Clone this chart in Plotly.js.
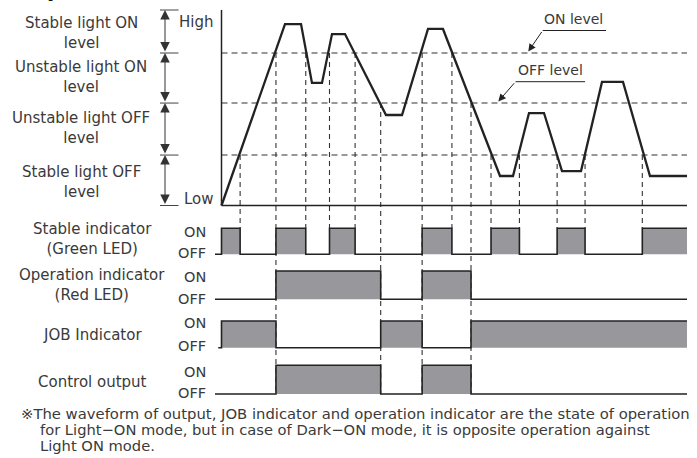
<!DOCTYPE html>
<html><head><meta charset="utf-8">
<script src="https://cdn.plot.ly/plotly-3.0.1.min.js"></script>
<style>html,body{margin:0;padding:0;background:#fff;}#chart{width:697px;height:458px;}</style>
</head><body><div id="chart"></div>
<script>
// ===== data (time in 0..100 units, light level Low=0 .. High=100) =====
const waveTime  = [0, 13.64, 17.08, 19.44, 21.59, 23.74, 26.53, 35.34, 38.78, 44.36, 47.58, 59.83, 62.62, 66.06, 69.28, 73.15, 77.23, 81.74, 86.25, 92.05, 100];
const waveLevel = [0, 92.8, 92.8, 62.7, 62.7, 87.7, 87.7, 46.3, 46.3, 90.3, 90.3, 15.1, 15.1, 47.3, 47.3, 17.6, 17.6, 63.2, 63.2, 15.1, 15.1];

const levelNames  = ["Low", "Stable OFF", "OFF level", "ON level", "High"];
const levelValues = [0, 25.8, 52.4, 78, 100];

const crossTime  = [4.0, 11.7, 18.1, 23.2, 28.7, 34.2, 43.1, 49.5, 53.6, 57.9, 64.0, 72.1, 78.1, 90.4];
const crossLevel = [25.8, 78, 78, 78, 78, 52.4, 78, 78, 52.4, 25.8, 25.8, 25.8, 25.8, 25.8];

const stableTime  = [-1.4, 0, 4.0, 11.7, 18.1, 23.2, 28.7, 43.1, 49.5, 57.9, 64.0, 72.1, 78.1, 90.4, 100];
const stableState = [0, 1, 0, 1, 0, 1, 0, 1, 0, 1, 0, 1, 0, 1, 1];
const operTime    = [-1.4, 11.7, 34.2, 43.1, 53.6, 100];
const operState   = [0, 1, 0, 1, 0, 0];
const jobTime     = [-0.7, 0, 11.7, 34.2, 43.1, 53.6, 100];
const jobState    = [0, 1, 0, 1, 0, 1, 1];
const ctrlTime    = [-1.4, 11.7, 34.2, 43.1, 53.6, 100];
const ctrlState   = [0, 1, 0, 1, 0, 0];

const rowLabels = ["Stable indicator<br>(Green LED)", "Operation indicator<br>(Red LED)", "JOB Indicator", "Control output"];
const levelLabels = ["Stable light ON<br>level", "Unstable light ON<br>level", "Unstable light OFF<br>level", "Stable light OFF<br>level"];

// ===== layout helpers (page position -> axis units) =====
const X = px => (px - 221.5) / 4.655;
const Y = py => (205.5 - py) / 1.955;

const rowOnY  = [Y(228.3), Y(271), Y(321), Y(365.3)];
const rowOffY = [Y(254.3), Y(299.3), Y(347.7), Y(394)];
const rowOnLabelY  = [231.5, 276.7, 322.7, 372.3];
const rowOffLabelY = [252.8, 298.5, 345.5, 393.3];

const INK = '#222';
const GRAY = 'rgb(152,152,156)';
const TXT = '#3a3a3a';
const FONT = 'DejaVu Sans, sans-serif';

const traces = [];

// vertical dashed guides from each crossing down to the rows
const vx = [], vy = [];
crossTime.forEach((t, i) => {
  const full = operTime.includes(t);
  vx.push(t, t, null);
  vy.push(crossLevel[i], full ? rowOffY[3] : rowOnY[0], null);
});
traces.push({x: vx, y: vy, mode: 'lines', line: {color: '#333', width: 1.1, dash: '5px,4px'}, hoverinfo: 'skip'});

// horizontal dashed threshold lines
const hx = [], hy = [];
levelValues.slice(1, 4).forEach(v => { hx.push(0, 100, null); hy.push(v, v, null); });
traces.push({x: hx, y: hy, mode: 'lines', line: {color: '#333', width: 1.1, dash: '6px,4px'}, hoverinfo: 'skip'});

// waveform
traces.push({x: waveTime, y: waveLevel, mode: 'lines', line: {color: INK, width: 2.3}, hoverinfo: 'skip'});

// timing rows
const rows = [[stableTime, stableState], [operTime, operState], [jobTime, jobState], [ctrlTime, ctrlState]];
rows.forEach(([t, s], r) => {
  const on = rowOnY[r], off = rowOffY[r];
  traces.push({x: [t[0], t[t.length - 1]], y: [off, off], mode: 'lines', line: {width: 0}, hoverinfo: 'skip'});
  traces.push({x: t, y: s.map(v => off + v * (on - off)), mode: 'lines', line: {color: INK, width: 1.6, shape: 'hv'},
               fill: 'tonexty', fillcolor: GRAY, hoverinfo: 'skip'});
});

const shapes = [
  {type: 'line', xref: 'x', yref: 'y', x0: 0, x1: 0, y0: 0, y1: 100, line: {color: INK, width: 1.5}},
  {type: 'line', xref: 'x', yref: 'y', x0: 0, x1: 100, y0: 0, y1: 0, line: {color: INK, width: 1.5}},
  // underlines of callouts
  {type: 'line', xref: 'x', yref: 'y', x0: X(542.7), x1: X(606), y0: Y(30.5), y1: Y(30.5), line: {color: INK, width: 1}},
  {type: 'line', xref: 'x', yref: 'y', x0: X(515.5), x1: X(585), y0: Y(81.7), y1: Y(81.7), line: {color: INK, width: 1}}
];
levelValues.forEach(v => shapes.push({type: 'line', xref: 'x', yref: 'y', x0: X(160), x1: X(178.5), y0: v, y1: v, line: {color: '#444', width: 1}}));

const ann = [];
const txt = (text, px, py, size, anchor, extra) => Object.assign({
  text, x: X(px), y: Y(py), xref: 'x', yref: 'y', showarrow: false, xanchor: anchor || 'center', yanchor: 'middle',
  font: {family: FONT, size: size, color: TXT}, align: 'center'
}, extra || {});

// double-headed arrows of the left scale
for (let i = 0; i < levelValues.length - 1; i++) {
  ann.push({x: X(165), y: levelValues[i + 1], ax: X(165), ay: levelValues[i], xref: 'x', yref: 'y', axref: 'x', ayref: 'y',
            text: '', showarrow: true, arrowside: 'end+start', arrowhead: 2, startarrowhead: 2,
            arrowsize: 1.9, startarrowsize: 1.9, arrowwidth: 1, arrowcolor: '#333'});
}
// left level labels
const levelLabelY = [33, 77, 127.5, 182];
levelLabels.forEach((l, i) => ann.push(txt(l, 81, levelLabelY[i], 15)));
ann.push(txt('High', 215, 22, 15, 'right'));
ann.push(txt('Low', 216, 199, 15, 'right'));

// callouts
ann.push(txt('ON level', 573, 19, 14));
ann.push(txt('OFF level', 550, 70, 14));
ann.push({x: X(528.3), y: Y(51.5), ax: X(542.7), ay: Y(30.5), xref: 'x', yref: 'y', axref: 'x', ayref: 'y', text: '',
          showarrow: true, arrowhead: 2, arrowsize: 1.5, arrowwidth: 1, arrowcolor: INK});
ann.push({x: X(498.3), y: Y(101.5), ax: X(515.5), ay: Y(81.7), xref: 'x', yref: 'y', axref: 'x', ayref: 'y', text: '',
          showarrow: true, arrowhead: 2, arrowsize: 1.5, arrowwidth: 1, arrowcolor: INK});

// rows labels
const rowLabelY = [239, 285, 335, 382];
rowLabels.forEach((l, i) => {
  ann.push(txt(l, 92, rowLabelY[i], 15));
  ann.push(txt('ON', 207.5, rowOnLabelY[i], 14.5, 'right'));
  ann.push(txt('OFF', 207.5, rowOffLabelY[i], 14.5, 'right'));
});

// notes
ann.push(txt('※The waveform of output, JOB indicator and operation indicator are the state of operation', 19, 413, 14.8, 'left'));
ann.push(txt('for Light−ON mode, but in case of Dark−ON mode, it is opposite operation against', 38, 429, 14.7, 'left'));
ann.push(txt('Light ON mode.', 38, 445, 14.7, 'left'));
// header (cut off at top of the picture)
ann.push({text: '<b>■ Operation mode</b>', x: 0, y: 1 + 10 / 458, xref: 'paper', yref: 'paper', xanchor: 'left', yanchor: 'middle',
          showarrow: false, font: {family: FONT, size: 21, color: '#111'}});

const layout = {
  width: 697, height: 458, margin: {l: 0, r: 0, t: 0, b: 0},
  paper_bgcolor: '#fff', plot_bgcolor: '#fff', showlegend: false,
  xaxis: {range: [X(0), X(697)], visible: false, fixedrange: true},
  yaxis: {range: [Y(458), Y(0)], visible: false, fixedrange: true},
  shapes, annotations: ann
};
Plotly.newPlot('chart', traces, layout, {staticPlot: true, displayModeBar: false});
</script></body></html>
